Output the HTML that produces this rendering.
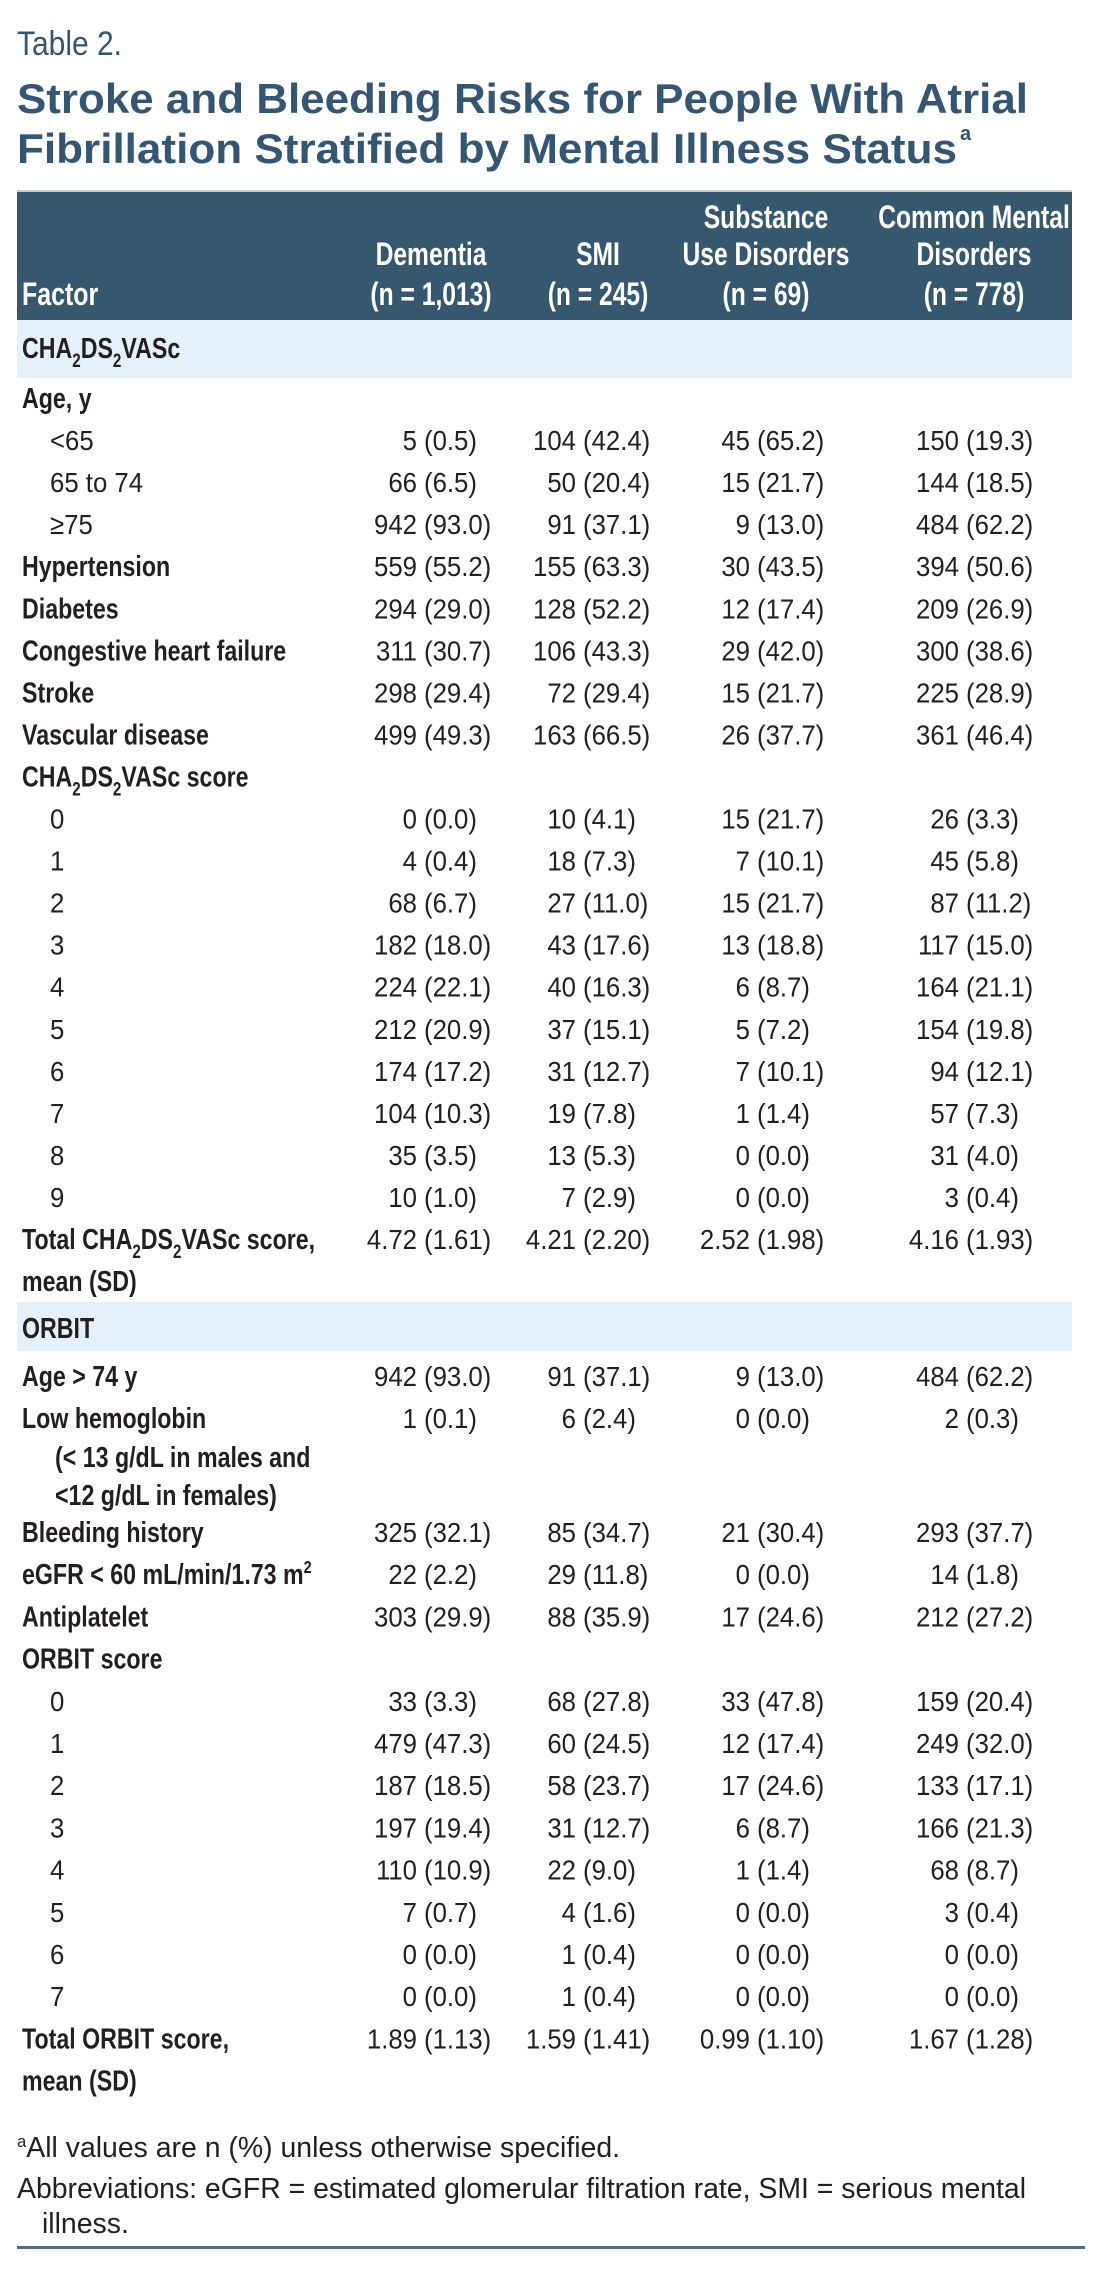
<!DOCTYPE html>
<html><head><meta charset="utf-8"><style>
html,body{margin:0;padding:0;background:#fff;}
svg{display:block;font-family:"Liberation Sans",sans-serif;}
</style></head><body>
<svg id="tbl" width="1099" height="2270" viewBox="0 0 1099 2270" xmlns="http://www.w3.org/2000/svg">
<text x="17" y="55" font-size="34" fill="#345672" textLength="105" lengthAdjust="spacingAndGlyphs">Table 2.</text>
<text x="17" y="113" font-size="42" font-weight="bold" fill="#345672" textLength="1011" lengthAdjust="spacingAndGlyphs">Stroke and Bleeding Risks for People With Atrial</text>
<text x="17" y="163" font-size="42" font-weight="bold" fill="#345672" textLength="940" lengthAdjust="spacingAndGlyphs">Fibrillation Stratified by Mental Illness Status</text>
<text x="960" y="140" font-size="20" font-weight="bold" fill="#345672">a</text>
<rect x="17" y="190" width="1055" height="2" fill="#c8ccd0"/>
<rect x="17" y="192" width="1055" height="128" fill="#36586f"/>
<rect x="17" y="320" width="1055" height="58" fill="#e5f1fa"/>
<rect x="17" y="1302" width="1055" height="49" fill="#e5f1fa"/>
<rect x="17" y="2246" width="1068" height="3" fill="#4d6d87"/>
<g id="body"></g>
</svg>
<script>
const columns = ["Dementia","SMI","Substance Use Disorders","Common Mental Disorders"];
const chaLabels = ["<65","65 to 74","≥75","Hypertension","Diabetes","Congestive heart failure","Stroke","Vascular disease"];
const chaValues = [
["5 (0.5)","104 (42.4)","45 (65.2)","150 (19.3)"],
["66 (6.5)","50 (20.4)","15 (21.7)","144 (18.5)"],
["942 (93.0)","91 (37.1)","9 (13.0)","484 (62.2)"],
["559 (55.2)","155 (63.3)","30 (43.5)","394 (50.6)"],
["294 (29.0)","128 (52.2)","12 (17.4)","209 (26.9)"],
["311 (30.7)","106 (43.3)","29 (42.0)","300 (38.6)"],
["298 (29.4)","72 (29.4)","15 (21.7)","225 (28.9)"],
["499 (49.3)","163 (66.5)","26 (37.7)","361 (46.4)"]];
const chaScores = [
["0 (0.0)","10 (4.1)","15 (21.7)","26 (3.3)"],
["4 (0.4)","18 (7.3)","7 (10.1)","45 (5.8)"],
["68 (6.7)","27 (11.0)","15 (21.7)","87 (11.2)"],
["182 (18.0)","43 (17.6)","13 (18.8)","117 (15.0)"],
["224 (22.1)","40 (16.3)","6 (8.7)","164 (21.1)"],
["212 (20.9)","37 (15.1)","5 (7.2)","154 (19.8)"],
["174 (17.2)","31 (12.7)","7 (10.1)","94 (12.1)"],
["104 (10.3)","19 (7.8)","1 (1.4)","57 (7.3)"],
["35 (3.5)","13 (5.3)","0 (0.0)","31 (4.0)"],
["10 (1.0)","7 (2.9)","0 (0.0)","3 (0.4)"]];
const chaMean = ["4.72 (1.61)","4.21 (2.20)","2.52 (1.98)","4.16 (1.93)"];
const orbitValues = {
 age:["942 (93.0)","91 (37.1)","9 (13.0)","484 (62.2)"],
 hb:["1 (0.1)","6 (2.4)","0 (0.0)","2 (0.3)"],
 bleed:["325 (32.1)","85 (34.7)","21 (30.4)","293 (37.7)"],
 egfr:["22 (2.2)","29 (11.8)","0 (0.0)","14 (1.8)"],
 anti:["303 (29.9)","88 (35.9)","17 (24.6)","212 (27.2)"]};
const orbitScores = [
["33 (3.3)","68 (27.8)","33 (47.8)","159 (20.4)"],
["479 (47.3)","60 (24.5)","12 (17.4)","249 (32.0)"],
["187 (18.5)","58 (23.7)","17 (24.6)","133 (17.1)"],
["197 (19.4)","31 (12.7)","6 (8.7)","166 (21.3)"],
["110 (10.9)","22 (9.0)","1 (1.4)","68 (8.7)"],
["7 (0.7)","4 (1.6)","0 (0.0)","3 (0.4)"],
["0 (0.0)","1 (0.4)","0 (0.0)","0 (0.0)"],
["0 (0.0)","1 (0.4)","0 (0.0)","0 (0.0)"]];
const orbitMean = ["1.89 (1.13)","1.59 (1.41)","0.99 (1.10)","1.67 (1.28)"];

const NS="http://www.w3.org/2000/svg";
const body=document.getElementById('body');
const parenX=[424,583,757,966];
const headCX=[431,598,766,974];
function txt(x,y,s,o){
  const t=document.createElementNS(NS,'text');
  const sx=o.sx||1;
  t.setAttribute('transform','translate('+x+','+y+') scale('+sx+',1)');
  t.setAttribute('font-size',o.size||28);
  if(o.bold) t.setAttribute('font-weight','bold');
  t.setAttribute('fill',o.fill||'#231f20');
  if(o.anchor) t.setAttribute('text-anchor',o.anchor);
  if(o.html) t.innerHTML=s; else t.textContent=s;
  body.appendChild(t);
  return t;
}
const hdr=[["","Dementia","(n = 1,013)"],["","SMI","(n = 245)"],["Substance","Use Disorders","(n = 69)"],["Common Mental","Disorders","(n = 778)"]];
const hy=[228,265,305];
let f=txt(22,305,"Factor",{bold:1,size:32,sx:0.78,fill:'#fff'});


hdr.forEach((h,c)=>h.forEach((s,k)=>{ if(!s)return;
  const t=txt(headCX[c],hy[k],s,{bold:1,size:32,sx:0.77,fill:'#fff',anchor:'middle'});
  
  
}));
function vals(y,arr,name){
  arr.forEach((v,c)=>{
    const i=v.indexOf(' (');
    const a=txt(parenX[c]-7,y,v.slice(0,i),{sx:0.92,anchor:'end'});
    
    
    const b=txt(parenX[c],y,v.slice(i+1),{sx:0.92});
    
    
  });
}
function label(x,y,s,bold,name,html){
  const t=txt(x,y,s,{bold:bold,size:bold?29:28,sx:bold?0.8:0.92,html:html});
  
  
}
const sub2='<tspan font-size="19" dy="9">2</tspan><tspan dy="-9">';
label(22,358,'CHA'+sub2+'DS</tspan>'+sub2+'VASc</tspan>',1,'cha2ds2vasc-section-label',1);
const P1=42.05, Y1=408;
label(22,Y1,'Age, y',1,'age-label');
chaLabels.forEach((l,i)=>{
  const y=Y1+(i+1)*P1;
  label(i<3?50:22,y,l,i>=3,'row-label-'+l.toLowerCase().replace(/[^a-z0-9]+/g,'-'));
  vals(y,chaValues[i],'cha-row-'+(i+1));
});
label(22,Y1+9*P1,'CHA'+sub2+'DS</tspan>'+sub2+'VASc score</tspan>',1,'cha-score-label',1);
chaScores.forEach((r,i)=>{
  const y=Y1+(10+i)*P1;
  label(50,y,String(i),0,'cha-score-'+i);
  vals(y,r,'cha-score-'+i);
});
label(22,Y1+20*P1,'Total CHA'+sub2+'DS</tspan>'+sub2+'VASc score,</tspan>',1,'cha-total-label',1);
label(22,Y1+21*P1,'mean (SD)',1,'cha-total-label-2');
vals(Y1+20*P1,chaMean,'cha-mean');
label(22,1338,'ORBIT',1,'orbit-section-label');
label(22,1386,'Age &gt; 74 y',1,'orbit-age-label',1); vals(1386,orbitValues.age,'orbit-age');
label(22,1428,'Low hemoglobin',1,'orbit-hb-label'); vals(1428,orbitValues.hb,'orbit-hb');
label(55,1467,'(&lt; 13 g/dL in males and',1,'orbit-hb-label-2',1);
label(55,1505,'&lt;12 g/dL in females)',1,'orbit-hb-label-3',1);
const P2=42.2, Y2=1542;
label(22,Y2,'Bleeding history',1,'orbit-bleed-label'); vals(Y2,orbitValues.bleed,'orbit-bleed');
label(22,Y2+P2,'eGFR &lt; 60 mL/min/1.73 m<tspan font-size="18" dy="-11">2</tspan>',1,'orbit-egfr-label',1); vals(Y2+P2,orbitValues.egfr,'orbit-egfr');
label(22,Y2+2*P2,'Antiplatelet',1,'orbit-antiplatelet-label'); vals(Y2+2*P2,orbitValues.anti,'orbit-antiplatelet');
label(22,Y2+3*P2,'ORBIT score',1,'orbit-score-label');
orbitScores.forEach((r,i)=>{
  const y=Y2+(4+i)*P2;
  label(50,y,String(i),0,'orbit-score-'+i);
  vals(y,r,'orbit-score-'+i);
});
label(22,Y2+12*P2,'Total ORBIT score,',1,'orbit-total-label');
label(22,Y2+13*P2,'mean (SD)',1,'orbit-total-label-2');
vals(Y2+12*P2,orbitMean,'orbit-mean');
let fn=txt(17,2157,'<tspan font-size="17" dy="-10">a</tspan><tspan dy="10">All values are n (%) unless otherwise specified.</tspan>',{size:29,sx:0.98,html:1});


fn=txt(17,2198,'Abbreviations: eGFR = estimated glomerular filtration rate, SMI = serious mental',{size:29,sx:0.98});


fn=txt(42,2233,'illness.',{size:29,sx:0.98});


</script>
</body></html>
